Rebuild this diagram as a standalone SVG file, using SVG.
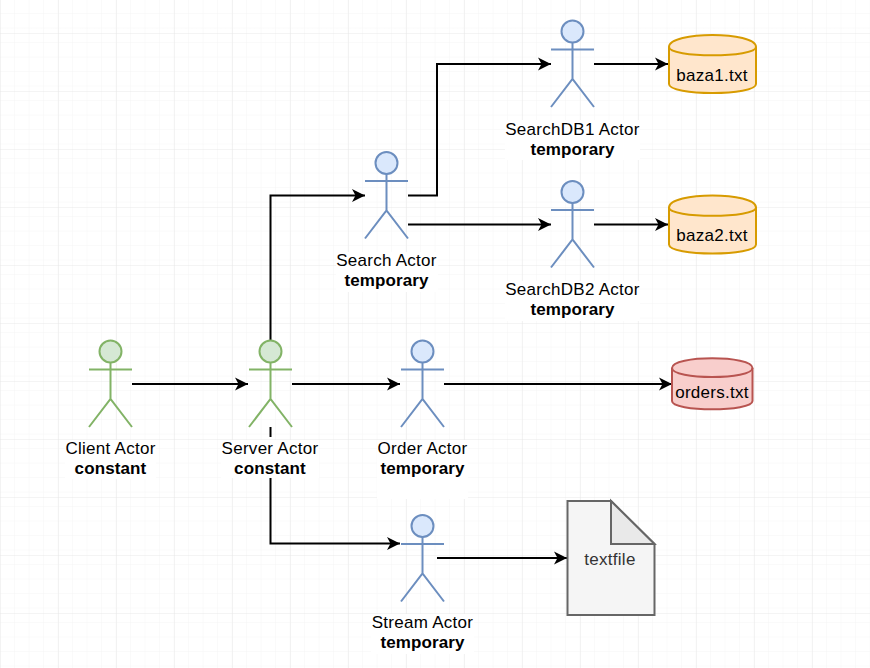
<svg xmlns="http://www.w3.org/2000/svg" width="870" height="668" viewBox="0 0 870 668">
<style>
text{font-family:"Liberation Sans",Arial,sans-serif;font-size:17px;letter-spacing:.27px;fill:#000;text-anchor:middle}
.b{font-weight:bold;letter-spacing:.12px}
.lbl{fill:#fff;stroke:none}
.g{fill:#d5e8d4;stroke:#82b366;stroke-width:2}
.a{fill:#dae8fc;stroke:#6c8ebf;stroke-width:2}
.c{fill:none;stroke:#000;stroke-width:2}
.o{fill:#ffe6cc;stroke:#d79b00;stroke-width:2}
.r{fill:#f8cecc;stroke:#b85450;stroke-width:2}
.n{fill:none}
.minor{stroke:#f5f5f5;stroke-width:1;fill:none}
.major{stroke:#e8e8e8;stroke-width:1;fill:none}
</style>
<defs>
<marker id="arr" markerUnits="userSpaceOnUse" markerWidth="14" markerHeight="14" refX="13" refY="7" orient="auto"><path d="M0 .5L13 7L0 13.500L3.500 7Z" fill="#000"/></marker>
<pattern id="gm" width="14.5" height="14.5" patternUnits="userSpaceOnUse" x="0.5" y="-0.5"><path class="minor" d="M14.5 0V14.5H0"/></pattern>
<pattern id="gM" width="58" height="58" patternUnits="userSpaceOnUse" x="1" y="-24"><path class="major" d="M58 0V58H0"/></pattern>
<g id="stick"><circle cx="0" cy="0" r="11"/><path d="M0 11V47.500M-21.500 18H21.500M-21.500 75.500L0 47.500L21.500 75.500" fill="none"/></g>
</defs>
<rect width="870" height="668" fill="#fff"/>
<rect width="870" height="668" fill="url(#gm)"/>
<rect width="870" height="668" fill="url(#gM)"/>
<g id="connectors">
<path class="c" marker-end="url(#arr)" d="M132 384H248"/>
<path class="c" marker-end="url(#arr)" d="M270.500 340V195.500H365"/>
<path class="c" marker-end="url(#arr)" d="M292 384H400"/>
<path class="c" d="M270.500 427V437"/>
<path class="c" marker-end="url(#arr)" d="M270.500 478V543.500H400"/>
<path class="c" marker-end="url(#arr)" d="M408 195.500H437V64H551"/>
<path class="c" marker-end="url(#arr)" d="M408 224.500H551"/>
<path class="c" marker-end="url(#arr)" d="M594 64H668"/>
<path class="c" marker-end="url(#arr)" d="M594 224.500H668"/>
<path class="c" marker-end="url(#arr)" d="M444 384H672"/>
<path class="c" marker-end="url(#arr)" d="M437 558H567"/>
</g>
<g id="client-actor"><use href="#stick" class="g" x="110.500" y="351.500"/><rect class="lbl" x="65" y="440" width="91" height="39"/><text x="110.500" y="454">Client Actor</text><text class="b" x="110.500" y="474">constant</text></g>
<g id="server-actor"><use href="#stick" class="g" x="270.500" y="351.500"/><rect class="lbl" x="221" y="440" width="98" height="38"/><text x="270" y="454">Server Actor</text><text class="b" x="270" y="474">constant</text></g>
<g id="order-actor"><use href="#stick" class="a" x="422.500" y="351.500"/><rect class="lbl" x="377" y="440" width="91" height="59"/><text x="422.500" y="454">Order Actor</text><text class="b" x="422.500" y="474">temporary</text></g>
<g id="search-actor"><use href="#stick" class="a" x="386.500" y="163"/><rect class="lbl" x="336" y="252" width="102" height="40"/><text x="386.500" y="266">Search Actor</text><text class="b" x="386.500" y="286">temporary</text></g>
<g id="searchdb1-actor"><use href="#stick" class="a" x="572.500" y="31.500"/><rect class="lbl" x="505" y="120" width="135" height="40"/><text x="572.500" y="135">SearchDB1 Actor</text><text class="b" x="572.500" y="155">temporary</text></g>
<g id="searchdb2-actor"><use href="#stick" class="a" x="572.500" y="192"/><rect class="lbl" x="505" y="281" width="135" height="40"/><text x="572.500" y="295">SearchDB2 Actor</text><text class="b" x="572.500" y="315">temporary</text></g>
<g id="stream-actor"><use href="#stick" class="a" x="422.500" y="526"/><rect class="lbl" x="371" y="614" width="103" height="40"/><text x="422.500" y="628">Stream Actor</text><text class="b" x="422.500" y="648">temporary</text></g>
<g id="baza1"><path class="o" d="M669 47C669 31 756 31 756 47V84C756 96 669 96 669 84Z"/><path class="o n" d="M669 47C669 58 756 58 756 47"/><text x="712" y="80.500">baza1.txt</text></g>
<g id="baza2"><path class="o" d="M669 207.500C669 191.500 756 191.500 756 207.500V244.500C756 256.500 669 256.500 669 244.500Z"/><path class="o n" d="M669 207.500C669 218.500 756 218.500 756 207.500"/><text x="712" y="240.500">baza2.txt</text></g>
<g id="orders"><path class="r" d="M672 368C672 355 752.500 355 752.500 368V401C752.500 412 672 412 672 401Z"/><path class="r n" d="M672 368C672 380 752.500 380 752.500 368"/><text x="712" y="398">orders.txt</text></g>
<g id="textfile"><path d="M567.500 501H611L654.500 544V615H567.500Z" fill="#f5f5f5" stroke="#666" stroke-width="2"/><path d="M611 501V544H654.500Z" fill="#e9e9e9" stroke="#666" stroke-width="2"/><text x="610" y="564.500" style="fill:#333">textfile</text></g>
</svg>
